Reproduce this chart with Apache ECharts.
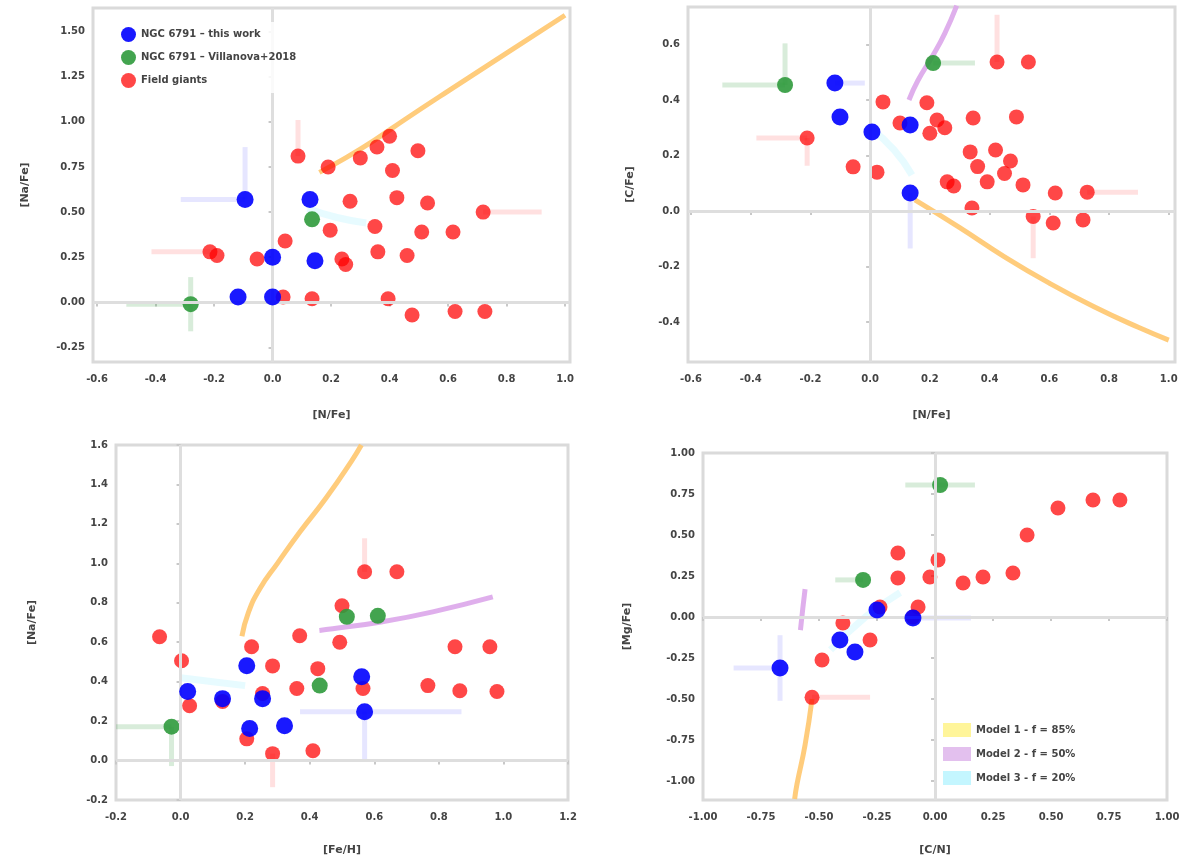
<!DOCTYPE html>
<html>
<head>
<meta charset="utf-8">
<script src="https://cdn.jsdelivr.net/npm/echarts@6/dist/echarts.min.js"></script>
<style>
  html, body { margin: 0; padding: 0; background: #fff; }
  #chart { width: 1200px; height: 864px; }
</style>
</head>
<body>
<div id="chart"></div>
<script>
// group names
const groupNames = ['NGC 6791 – this work', 'NGC 6791 – Villanova+2018', 'Field giants']
const modelNames = ['Model 1 - f = 85%', 'Model 2 - f = 50%', 'Model 3 - f = 20%']

// tick values per panel
const p1XTicks = [-0.6, -0.4, -0.2, 0, 0.2, 0.4, 0.6, 0.8, 1.0]
const p1YTicks = [-0.25, 0, 0.25, 0.5, 0.75, 1.0, 1.25, 1.5]
const p2XTicks = [-0.6, -0.4, -0.2, 0, 0.2, 0.4, 0.6, 0.8, 1.0]
const p2YTicks = [-0.4, -0.2, 0, 0.2, 0.4, 0.6]
const p3XTicks = [-0.2, 0, 0.2, 0.4, 0.6, 0.8, 1.0, 1.2]
const p3YTicks = [-0.2, 0, 0.2, 0.4, 0.6, 0.8, 1.0, 1.2, 1.4, 1.6]
const p4XTicks = [-1.0, -0.75, -0.5, -0.25, 0, 0.25, 0.5, 0.75, 1.0]
const p4YTicks = [-1.0, -0.75, -0.5, -0.25, 0, 0.25, 0.5, 0.75, 1.0]

// panel 1: [N/Fe] vs [Na/Fe]
const p1Blue = [[-0.094, 0.57], [0.128, 0.57], [0.0, 0.25], [0.145, 0.23], [-0.118, 0.03], [0.0, 0.03]]
const p1Green = [[-0.28, -0.01], [0.135, 0.46]]
const p1Red = [[0.087, 0.81], [0.19, 0.75], [0.30, 0.80], [0.357, 0.86], [0.40, 0.92], [0.497, 0.84], [0.41, 0.73],
  [0.425, 0.58], [0.265, 0.56], [0.53, 0.55], [0.72, 0.50], [0.197, 0.40], [0.35, 0.42], [0.51, 0.39], [0.617, 0.39],
  [0.043, 0.34], [-0.214, 0.28], [-0.19, 0.26], [-0.053, 0.24], [0.237, 0.24], [0.25, 0.21], [0.36, 0.28], [0.46, 0.26],
  [0.036, 0.03], [0.135, 0.02], [0.395, 0.02], [0.477, -0.07], [0.624, -0.05], [0.726, -0.05]]
// errors: [x, y, dx-, dx+, dy-, dy+]
const p1BlueErr = [[-0.094, 0.57, 0.22, 0, 0, 0.29]]
const p1GreenErr = [[-0.28, -0.01, 0.22, 0, 0.15, 0.15]]
const p1RedErr = [[0.72, 0.50, 0, 0.2, 0, 0], [-0.214, 0.28, 0.2, 0, 0, 0], [0.087, 0.81, 0, 0, 0, 0.2]]
const p1Model1 = [[0.16, 0.72], [0.25, 0.80], [0.35, 0.90], [0.45, 1.01], [0.6, 1.17], [0.8, 1.38], [1.0, 1.59]]
const p1Model2 = []
const p1Model3 = [[0.12, 0.52], [0.22, 0.47], [0.32, 0.44]]

// panel 2: [N/Fe] vs [C/Fe]
const p2Blue = [[-0.118, 0.461], [-0.101, 0.339], [0.006, 0.285], [0.134, 0.31], [0.134, 0.065]]
const p2Green = [[-0.285, 0.454], [0.211, 0.533]]
const p2Red = [[0.425, 0.537], [0.53, 0.537], [0.043, 0.393], [0.19, 0.39], [0.224, 0.328], [0.25, 0.30], [0.20, 0.28],
  [0.10, 0.317], [0.345, 0.335], [0.49, 0.339], [-0.211, 0.263], [-0.057, 0.159], [0.023, 0.14], [0.258, 0.105],
  [0.28, 0.09], [0.335, 0.213], [0.42, 0.22], [0.47, 0.18], [0.36, 0.16], [0.45, 0.135], [0.392, 0.105], [0.512, 0.094],
  [0.62, 0.065], [0.727, 0.068], [0.341, 0.011], [0.546, -0.02], [0.613, -0.043], [0.713, -0.032]]
const p2BlueErr = [[0.134, 0.065, 0, 0, 0.2, 0], [-0.118, 0.461, 0, 0.1, 0, 0]]
const p2GreenErr = [[-0.285, 0.454, 0.21, 0, 0, 0.15], [0.211, 0.533, 0, 0.14, 0, 0]]
const p2RedErr = [[0.425, 0.537, 0, 0, 0, 0.17], [-0.211, 0.263, 0.17, 0, 0.1, 0], [0.727, 0.068, 0, 0.17, 0, 0], [0.546, -0.02, 0, 0, 0.15, 0]]
const p2Model1 = [[0.15, 0.04], [0.3, -0.06], [0.45, -0.165], [0.6, -0.26], [0.75, -0.345], [0.9, -0.42], [1.0, -0.465]]
const p2Model2 = [[0.13, 0.40], [0.16, 0.47], [0.21, 0.56], [0.25, 0.64], [0.29, 0.74]]
const p2Model3 = [[0.0, 0.30], [0.08, 0.22], [0.14, 0.13]]

// panel 3: [Fe/H] vs [Na/Fe]
const p3Blue = [[0.022, 0.35], [0.13, 0.314], [0.205, 0.481], [0.254, 0.314], [0.214, 0.162], [0.322, 0.177], [0.561, 0.425], [0.57, 0.248]]
const p3Green = [[-0.028, 0.172], [0.515, 0.729], [0.611, 0.734], [0.431, 0.38]]
const p3Red = [[-0.065, 0.628], [0.003, 0.506], [0.028, 0.278], [0.13, 0.30], [0.22, 0.577], [0.285, 0.48], [0.36, 0.365],
  [0.369, 0.633], [0.425, 0.466], [0.5, 0.785], [0.493, 0.60], [0.57, 0.957], [0.67, 0.957], [0.85, 0.577], [0.958, 0.577],
  [0.766, 0.38], [0.865, 0.354], [0.98, 0.35], [0.565, 0.365], [0.285, 0.035], [0.41, 0.05], [0.205, 0.11], [0.254, 0.34]]
const p3BlueErr = [[0.57, 0.248, 0.2, 0.3, 0.25, 0]]
const p3GreenErr = [[-0.028, 0.172, 0.18, 0, 0.2, 0]]
const p3RedErr = [[0.57, 0.957, 0, 0, 0, 0.17], [0.285, 0.035, 0, 0, 0.17, 0]]
const p3Model1 = [[0.19, 0.63], [0.21, 0.75], [0.245, 0.87], [0.30, 1.0], [0.37, 1.16], [0.45, 1.33], [0.53, 1.52], [0.56, 1.6]]
const p3Model2 = [[0.43, 0.66], [0.471, 0.668], [0.626, 0.704], [0.781, 0.754], [0.967, 0.83]]
const p3Model3 = [[0.0, 0.42], [0.1, 0.40], [0.2, 0.38]]

// panel 4: [C/N] vs [Mg/Fe]
const p4Blue = [[-0.25, 0.043], [-0.41, -0.14], [-0.345, -0.213], [-0.095, -0.006], [-0.668, -0.311]]
const p4Green = [[0.022, 0.805], [-0.31, 0.226]]
const p4Red = [[0.681, 0.713], [0.797, 0.713], [0.53, 0.665], [0.397, 0.50], [-0.16, 0.39], [0.013, 0.348], [-0.022, 0.244],
  [-0.16, 0.238], [0.121, 0.207], [0.207, 0.244], [0.336, 0.268], [-0.073, 0.061], [-0.095, 0.0], [-0.237, 0.061],
  [-0.397, -0.037], [-0.28, -0.14], [-0.487, -0.262], [-0.53, -0.49]]
const p4BlueErr = [[-0.668, -0.311, 0.2, 0, 0.2, 0.2], [-0.095, -0.006, 0, 0.25, 0, 0]]
const p4GreenErr = [[0.022, 0.805, 0.15, 0.15, 0, 0], [-0.31, 0.226, 0.12, 0, 0, 0]]
const p4RedErr = [[-0.53, -0.49, 0, 0.25, 0, 0]]
const p4Model1 = [[-0.53, -0.50], [-0.56, -0.78], [-0.595, -1.02], [-0.605, -1.11]]
const p4Model2 = [[-0.58, -0.08], [-0.57, 0.05], [-0.56, 0.17]]
const p4Model3 = [[-0.45, -0.2], [-0.3, 0.0], [-0.15, 0.15]]

const chart = echarts.init(document.getElementById('chart'))

const panels = [
  { grid: { left: 93, top: 8, width: 477, height: 354 }, x: [-0.614, 1.017, p1XTicks, 1, '[N/Fe]', 48], y: [-0.33, 1.63, p1YTicks, 2, '[Na/Fe]', 62],
    blue: p1Blue, green: p1Green, red: p1Red, errs: [p1BlueErr, p1GreenErr, p1RedErr], models: [p1Model1, p1Model2, p1Model3] },
  { grid: { left: 688, top: 7, width: 487, height: 355 }, x: [-0.61, 1.021, p2XTicks, 1, '[N/Fe]', 48], y: [-0.544, 0.735, p2YTicks, 1, '[C/Fe]', 52],
    blue: p2Blue, green: p2Green, red: p2Red, errs: [p2BlueErr, p2GreenErr, p2RedErr], models: [p2Model1, p2Model2, p2Model3] },
  { grid: { left: 116, top: 445, width: 452, height: 355 }, x: [-0.2, 1.2, p3XTicks, 1, '[Fe/H]', 45], y: [-0.2, 1.6, p3YTicks, 1, '[Na/Fe]', 78],
    blue: p3Blue, green: p3Green, red: p3Red, errs: [p3BlueErr, p3GreenErr, p3RedErr], models: [p3Model1, p3Model2, p3Model3] },
  { grid: { left: 703, top: 453, width: 464, height: 347 }, x: [-1.0, 1.0, p4XTicks, 2, '[C/N]', 45], y: [-1.116, 1.0, p4YTicks, 2, '[Mg/Fe]', 70],
    blue: p4Blue, green: p4Green, red: p4Red, errs: [p4BlueErr, p4GreenErr, p4RedErr], models: [p4Model1, p4Model2, p4Model3] }
]

const colors = ['#0000ff', '#2f9a3c', '#ff0000']
const errColors = ['rgba(130,130,255,0.2)', 'rgba(60,160,70,0.2)', 'rgba(255,100,100,0.2)']
const modelColors = ['#ffc66e', '#dba6ea', '#c9f6ff']
const legendColors = ['#fff59a', '#e3c0ee', '#c4f6ff']

const makeAxis = (cfg, i, isX) => ({
  type: 'value',
  gridIndex: i,
  min: cfg[0],
  max: cfg[1],
  name: cfg[4],
  nameLocation: 'middle',
  nameGap: cfg[5],
  nameTextStyle: { fontSize: 11, fontWeight: 'bold', color: '#444', fontFamily: 'DejaVu Sans' },
  axisLine: { show: false },
  splitLine: { show: false },
  axisTick: { show: true, customValues: cfg[2], length: 4, lineStyle: { color: '#c8c8c8', width: 2 } },
  axisLabel: {
    customValues: cfg[2],
    formatter: v => v.toFixed(cfg[3]),
    fontSize: 10,
    fontWeight: 'bold',
    color: '#444',
    fontFamily: 'DejaVu Sans',
    margin: isX ? 12 : 8
  }
})

const errorSeries = (data, color, i) => ({
  type: 'custom',
  xAxisIndex: i,
  yAxisIndex: i,
  z: 1,
  silent: true,
  clip: true,
  data: data,
  encode: { x: 0, y: 1 },
  renderItem: (params, api) => {
    const x = api.value(0), y = api.value(1)
    const h0 = api.coord([x - api.value(2), y]), h1 = api.coord([x + api.value(3), y])
    const v0 = api.coord([x, y - api.value(4)]), v1 = api.coord([x, y + api.value(5)])
    const style = { stroke: color, lineWidth: 5 }
    return {
      type: 'group',
      children: [
        { type: 'line', shape: { x1: h0[0], y1: h0[1], x2: h1[0], y2: h1[1] }, style },
        { type: 'line', shape: { x1: v0[0], y1: v0[1], x2: v1[0], y2: v1[1] }, style }
      ]
    }
  }
})

const grids = []
const xAxes = []
const yAxes = []
const series = []

panels.forEach((p, i) => {
  grids.push(Object.assign({ show: true, borderColor: '#dadada', borderWidth: 3, backgroundColor: '#fff' }, p.grid))
  xAxes.push(makeAxis(p.x, i, true))
  yAxes.push(makeAxis(p.y, i, false))

  // model tracks (first one also carries the solar reference lines)
  p.models.forEach((m, k) => {
    const s = {
      name: modelNames[k],
      type: 'line',
      xAxisIndex: i,
      yAxisIndex: i,
      data: m,
      showSymbol: false,
      smooth: true,
      z: 1,
      silent: true,
      lineStyle: { color: modelColors[k], width: k === 2 ? 7 : 5, opacity: k === 2 ? 0.45 : 0.9 },
      itemStyle: { color: modelColors[k] }
    }
    if (k === 0) {
      s.markLine = {
        silent: true,
        symbol: 'none',
        label: { show: false },
        lineStyle: { color: '#dedede', width: 3, type: 'solid' },
        data: [{ xAxis: 0 }, { yAxis: 0 }]
      }
    }
    series.push(s)
  })

  p.errs.forEach((e, k) => series.push(errorSeries(e, errColors[k], i)))

  const pts = [p.red, p.green, p.blue]
  const idx = [2, 1, 0]
  pts.forEach((d, n) => {
    const k = idx[n]
    series.push({
      name: groupNames[k],
      type: 'scatter',
      xAxisIndex: i,
      yAxisIndex: i,
      data: d,
      symbol: 'circle',
      symbolSize: k === 0 ? 17 : (k === 1 ? 16 : 15),
      z: 3 + n,
      itemStyle: { color: colors[k], opacity: k === 2 ? 0.72 : 0.9 }
    })
  })
})

const option = {
  animation: false,
  backgroundColor: '#fff',
  grid: grids,
  xAxis: xAxes,
  yAxis: yAxes,
  legend: [
    {
      data: groupNames,
      orient: 'vertical',
      left: 116,
      top: 22,
      icon: 'circle',
      itemWidth: 15,
      itemHeight: 15,
      itemGap: 8,
      z: 10,
      backgroundColor: 'rgba(255,255,255,0.85)',
      textStyle: { fontSize: 10, fontWeight: 'bold', color: '#444', fontFamily: 'DejaVu Sans' }
    },
    {
      data: modelNames.map((n, k) => ({ name: n, itemStyle: { color: legendColors[k] } })),
      orient: 'vertical',
      left: 938,
      top: 718,
      icon: 'rect',
      itemWidth: 28,
      itemHeight: 14,
      itemGap: 10,
      z: 10,
      backgroundColor: 'rgba(255,255,255,0.85)',
      textStyle: { fontSize: 10, fontWeight: 'bold', color: '#444', fontFamily: 'DejaVu Sans' }
    }
  ],
  series: series
}

chart.setOption(option)
</script>
</body>
</html>
